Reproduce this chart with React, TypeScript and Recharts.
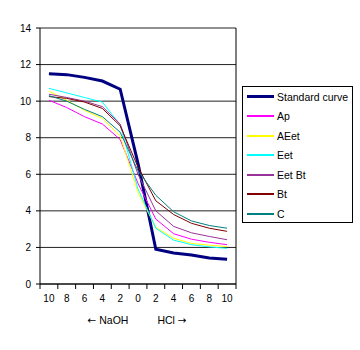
import { LineChart, Line, XAxis, YAxis, CartesianGrid, Legend, ReferenceLine } from 'recharts';

// x categories: mmol NaOH on the left, HCl on the right
const xLabels = ['10', '8', '6', '4', '2', '0', '2', '4', '6', '8', '10'];
const yTicks = [0, 2, 4, 6, 8, 10, 12, 14];

const standardCurve = [11.5, 11.45, 11.3, 11.1, 10.65, 6.6, 1.9, 1.7, 1.58, 1.42, 1.35];
const ap = [10.05, 9.65, 9.15, 8.75, 7.9, 5.5, 3.55, 2.75, 2.45, 2.28, 2.15];
const aeet = [10.55, 10.05, 9.5, 9.05, 8.1, 5.0, 3.1, 2.5, 2.22, 2.12, 2.05];
const eet = [10.7, 10.45, 10.2, 9.95, 8.7, 5.2, 3.05, 2.4, 2.15, 2.03, 1.95];
const eetBt = [10.38, 10.2, 10.0, 9.7, 8.75, 6.0, 4.0, 3.15, 2.8, 2.6, 2.42];
const bt = [10.25, 10.15, 9.95, 9.6, 8.65, 6.4, 4.55, 3.8, 3.32, 3.05, 2.88];
const c = [10.3, 10.0, 9.55, 9.15, 8.3, 6.2, 4.85, 3.95, 3.45, 3.2, 3.05];

const series = [
  { key: 'std', name: 'Standard curve', values: standardCurve, color: '#000080', width: 3 },
  { key: 'ap', name: 'Ap', values: ap, color: '#FF00FF', width: 1 },
  { key: 'aeet', name: 'AEet', values: aeet, color: '#FFFF00', width: 1 },
  { key: 'eet', name: 'Eet', values: eet, color: '#00FFFF', width: 1 },
  { key: 'eetbt', name: 'Eet Bt', values: eetBt, color: '#993399', width: 1 },
  { key: 'bt', name: 'Bt', values: bt, color: '#800000', width: 1 },
  { key: 'c', name: 'C', values: c, color: '#008080', width: 1 },
];

const data = xLabels.map((label, i) => {
  const row: Record<string, number | string> = { i, label };
  series.forEach((s) => {
    row[s.key] = s.values[i];
  });
  return row;
});

const W = 360;
const H = 350;
const MARGIN = { top: 28, right: 124, bottom: 16, left: 0 };
const Y_AXIS_W = 40;
const PLOT_W = W - MARGIN.left - MARGIN.right - Y_AXIS_W;
const BAND = PLOT_W / xLabels.length;
// tick marks sit between categories, Excel style
const boundaries = xLabels.map((_, i) => i - 0.5).concat([xLabels.length - 0.5]);

const FONT = '"Liberation Sans", Arial, sans-serif';
const ARROW_FONT = '"DejaVu Sans", sans-serif';

function XTick(props: any) {
  const { x, y, index } = props;
  if (index >= xLabels.length) return null;
  return (
    <text x={x + BAND / 2} y={y} dy={9} textAnchor="middle" fontSize={10} fontFamily={FONT} fill="#000">
      {xLabels[index]}
    </text>
  );
}

function AxisTitle(props: any) {
  const { viewBox } = props;
  const cx = viewBox.x + viewBox.width / 2;
  const ty = viewBox.y + 40;
  return (
    <g fontSize={10.5} fontFamily={FONT} fill="#000">
      <text x={cx - 30} y={ty} textAnchor="middle">
        <tspan fontFamily={ARROW_FONT}>←</tspan> NaOH
      </text>
      <text x={cx + 34} y={ty} textAnchor="middle">
        HCl <tspan fontFamily={ARROW_FONT}>→</tspan>
      </text>
    </g>
  );
}

function LegendBox() {
  return (
    <div
      style={{
        width: 111,
        height: 137,
        boxSizing: 'border-box',
        border: '1px solid #000',
        background: '#fff',
        fontFamily: FONT,
        fontSize: 10.5,
        color: '#000',
      }}
    >
      {series.map((s) => (
        <div key={s.key} style={{ height: 19.5, display: 'flex', alignItems: 'center' }}>
          <div style={{ width: 27, height: s.width === 3 ? 3 : 2, background: s.color, marginLeft: 4, marginRight: 3 }} />
          <span style={{ whiteSpace: 'nowrap' }}>{s.name}</span>
        </div>
      ))}
    </div>
  );
}

export default function App() {
  return (
    <div style={{ position: 'absolute', left: 0, top: 0, width: W, height: H, background: '#fff' }}>
      <LineChart width={W} height={H} data={data} margin={MARGIN}>
        <CartesianGrid horizontal vertical={false} stroke="#222" strokeWidth={1} />
        <XAxis
          type="number"
          dataKey="i"
          domain={[-0.5, xLabels.length - 0.5]}
          ticks={boundaries}
          interval={0}
          height={50}
          tick={<XTick />}
          tickSize={5}
          tickMargin={4}
          stroke="#000"
          axisLine={{ stroke: '#000' }}
          tickLine={{ stroke: '#000' }}
          label={<AxisTitle />}
        />
        <YAxis
          domain={[0, 14]}
          ticks={yTicks}
          interval={0}
          width={Y_AXIS_W}
          tickSize={4}
          tickMargin={5}
          axisLine={{ stroke: '#000' }}
          tickLine={{ stroke: '#000' }}
          tick={{ fill: '#000', fontSize: 10, fontFamily: FONT }}
        />
        <ReferenceLine x={xLabels.length - 0.5} stroke="#000" />
        <Legend
          layout="vertical"
          align="center"
          verticalAlign="middle"
          content={<LegendBox />}
          wrapperStyle={{ left: 242, top: 86, width: 111, height: 137 }}
        />
        {series.map((s) => (
          <Line
            key={s.key}
            type="linear"
            dataKey={s.key}
            name={s.name}
            stroke={s.color}
            strokeWidth={s.width}
            dot={false}
            isAnimationActive={false}
          />
        ))}
      </LineChart>
    </div>
  );
}
